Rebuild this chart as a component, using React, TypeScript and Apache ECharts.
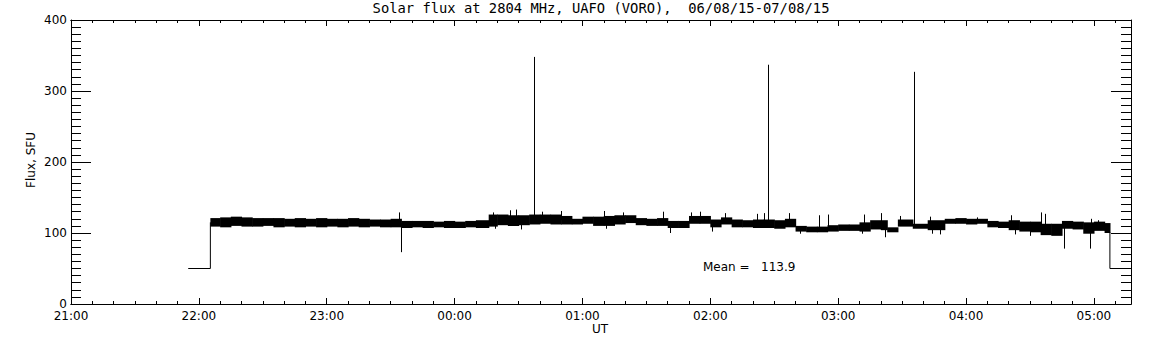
import React, { useEffect, useRef } from "react";
import * as echarts from "echarts";

// ---- text ----
const titleText = "Solar flux at 2804 MHz, UAFO (VORO),\u00A0 06/08/15-07/08/15";
const xAxisName = "UT";
const yAxisName = "Flux, SFU";
const meanLabel = "Mean =\u00A0\u00A0 113.9";

// ---- axes ----
const xTickLabels = ["21:00", "22:00", "23:00", "00:00", "01:00", "02:00", "03:00", "04:00", "05:00"];
const xStart = "21:00";
const xEnd = "05:17:24";
const yTicks = [0, 100, 200, 300, 400];

// ---- calibration steps (flux 50 SFU before/after observations) ----
const stepInTimes = ["21:55", "22:05:24", "22:05:24"];
const stepInValues = [50, 50, 115];
const stepOutTimes = ["05:07:30", "05:07:30", "05:20"];
const stepOutValues = [101, 50, 50];

// ---- noise envelope of the flux record (min / max per interval) ----
const bandStart = [
  "22:05:24", "22:10", "22:15", "22:20", "22:25", "22:30", "22:35", "22:40", "22:45", "22:50", "22:55",
  "23:00", "23:05", "23:10", "23:15", "23:20", "23:25", "23:30", "23:35", "23:40", "23:45", "23:50", "23:55",
  "00:00", "00:05", "00:10", "00:16", "00:20", "00:25", "00:30", "00:35", "00:40", "00:45", "00:50", "00:55",
  "01:00", "01:05", "01:10", "01:15", "01:20", "01:25", "01:30", "01:35", "01:40", "01:45", "01:50", "01:55",
  "02:00", "02:05", "02:10", "02:15", "02:20", "02:25", "02:30", "02:35", "02:40", "02:45", "02:50", "02:55",
  "03:00", "03:05", "03:10", "03:15", "03:20", "03:23", "03:28", "03:35", "03:42", "03:50", "03:55",
  "04:00", "04:05", "04:10", "04:15", "04:20", "04:25", "04:30", "04:35", "04:40", "04:45", "04:50", "04:55",
  "05:00", "05:05",
];
const bandEnd = "05:07:30";
const bandLow = [
  109, 108, 110, 109, 109, 110, 108, 109, 108, 109, 108,
  109, 108, 109, 108, 109, 108, 108, 107, 108, 107, 108, 107,
  107, 108, 107, 109, 111, 110, 111, 112, 113, 112, 112, 112,
  113, 110, 110, 112, 114, 111, 110, 110, 107, 107, 113, 113,
  108, 112, 108, 108, 107, 107, 106, 108, 102, 101, 101, 102,
  103, 103, 102, 105, 104, 101, 109, 106, 104, 113, 113,
  112, 113, 108, 107, 104, 102, 101, 97, 96, 106, 105, 99,
  103, 100,
];
const bandHigh = [
  121, 122, 123, 122, 121, 121, 121, 120, 121, 120, 121,
  120, 120, 121, 120, 119, 119, 120, 117, 117, 117, 116, 117,
  116, 117, 118, 126, 126, 125, 125, 126, 126, 126, 124, 120,
  123, 123, 124, 125, 125, 121, 120, 121, 117, 117, 124, 124,
  119, 122, 119, 118, 119, 119, 118, 120, 110, 109, 109, 111,
  112, 112, 115, 118, 118, 108, 119, 113, 118, 120, 121,
  120, 120, 117, 116, 118, 116, 116, 113, 113, 117, 116, 115,
  116, 114,
];

// ---- short glitches sticking out of the noise band ----
const glitchTimes = [
  "23:33:48", "23:34:54", "00:18", "00:19", "00:26", "00:29", "00:31", "00:41", "00:50",
  "01:10", "01:11", "01:19", "01:38", "01:41", "01:51", "01:55", "02:01", "02:07", "02:22",
  "02:25", "02:37", "02:42", "02:51", "02:55", "03:11", "03:12", "03:20", "03:22", "03:29", "03:43", "03:44",
  "03:48", "04:05", "04:21", "04:23", "04:30", "04:35", "04:37", "04:46", "04:58", "04:58:30", "05:02",
];
const glitchValues = [
  129, 73, 129, 106, 132, 133, 105, 130, 131,
  131, 106, 129, 130, 100, 129, 130, 102, 128, 127,
  128, 128, 99, 125, 126, 99, 126, 128, 94, 124, 123, 99,
  98, 122, 125, 98, 96, 129, 127, 78, 78, 120, 118,
];

// ---- burst spikes ----
const spikeTimes = ["00:37:18", "02:27:12", "03:35:42"];
const spikeValues = [348, 337, 327];

function toMin(s: string): number {
  const p = s.split(":").map(Number);
  let h = p[0];
  if (h < 12) h += 24;
  return h * 60 + p[1] + (p[2] || 0) / 60;
}

const FONT = "DejaVu Sans";

export default function App() {
  const ref = useRef<HTMLDivElement>(null);
  useEffect(() => {
    const chart = echarts.init(ref.current!, null, { renderer: "svg" });

    const bandData = bandStart.map((s, i) => [
      toMin(s),
      i + 1 < bandStart.length ? toMin(bandStart[i + 1]) : toMin(bandEnd),
      bandLow[i],
      bandHigh[i],
    ]);
    const baseAt = (t: number) => {
      for (const b of bandData) if (t >= b[0] && t < b[1]) return (b[2] + b[3]) / 2;
      return 113;
    };
    const glitchData = glitchTimes
      .map((s, i) => [toMin(s), glitchValues[i]])
      .concat(spikeTimes.map((s, i) => [toMin(s), spikeValues[i]]))
      .map(([t, v]) => [t, baseAt(t), v]);

    const xMin = toMin(xStart);
    const xMax = toMin(xEnd);
    const black = { color: "#000", width: 1 };

    const xBase = (pos: "top" | "bottom", interval: number, len: number, labels: boolean) => ({
      type: "value",
      position: pos,
      min: xMin,
      max: xMax,
      interval,
      axisLine: { show: true, onZero: false, lineStyle: black },
      axisTick: { show: true, inside: true, length: len, lineStyle: black },
      splitLine: { show: false },
      axisLabel: labels
        ? {
            show: true,
            margin: 6,
            color: "#000",
            fontFamily: FONT,
            fontSize: 12,
            formatter: (v: number) => {
              const k = (v - xMin) / 60;
              return Math.abs(k - Math.round(k)) < 1e-6 ? xTickLabels[Math.round(k)] || "" : "";
            },
          }
        : { show: false },
    });
    const yBase = (pos: "left" | "right", labels: boolean) => ({
      type: "value",
      position: pos,
      min: yTicks[0],
      max: yTicks[yTicks.length - 1],
      interval: yTicks[1] - yTicks[0],
      axisLine: { show: true, onZero: false, lineStyle: black },
      axisTick: { show: true, inside: true, length: 20, lineStyle: black },
      minorTick: { show: true, splitNumber: 10, length: 10, lineStyle: black },
      splitLine: { show: false },
      minorSplitLine: { show: false },
      axisLabel: labels
        ? { show: true, margin: 4, color: "#000", fontFamily: FONT, fontSize: 12 }
        : { show: false },
    });

    const option: any = {
      animation: false,
      backgroundColor: "#fff",
      grid: { left: 71, right: 21, top: 20, bottom: 41, containLabel: false },
      xAxis: [
        xBase("bottom", 60, 6, true),
        xBase("bottom", 10, 3, false),
        xBase("top", 60, 6, false),
        xBase("top", 10, 3, false),
      ],
      yAxis: [yBase("left", true), yBase("right", false)],
      graphic: [
        {
          type: "text",
          x: 601,
          y: 8,
          style: {
            text: titleText,
            fill: "#000",
            font: "13.8px 'DejaVu Sans Mono'",
            align: "center",
            verticalAlign: "middle",
          },
        },
        {
          type: "text",
          x: 600,
          y: 329,
          style: { text: xAxisName, fill: "#000", font: `12px '${FONT}'`, align: "center", verticalAlign: "middle" },
        },
        {
          type: "text",
          x: 31,
          y: 160,
          rotation: Math.PI / 2,
          style: { text: yAxisName, fill: "#000", font: `12px '${FONT}'`, align: "center", verticalAlign: "middle" },
        },
        {
          type: "text",
          x: 703,
          y: 267,
          style: { text: meanLabel, fill: "#000", font: `12px '${FONT}'`, align: "left", verticalAlign: "middle" },
        },
      ],
      series: [
        {
          type: "custom",
          xAxisIndex: 0,
          yAxisIndex: 0,
          encode: { x: [0, 1], y: [2, 3] },
          data: bandData,
          renderItem: (params: any, api: any) => {
            const a = api.coord([api.value(0), api.value(3)]);
            const b = api.coord([api.value(1), api.value(2)]);
            return {
              type: "rect",
              shape: { x: a[0], y: a[1], width: b[0] - a[0] + 0.6, height: b[1] - a[1] },
              style: { fill: "#000" },
            };
          },
        },
        {
          type: "custom",
          xAxisIndex: 0,
          yAxisIndex: 0,
          encode: { x: 0, y: [1, 2] },
          data: glitchData,
          renderItem: (params: any, api: any) => {
            const a = api.coord([api.value(0), api.value(1)]);
            const b = api.coord([api.value(0), api.value(2)]);
            const x = Math.round(a[0]) + 0.5;
            return {
              type: "line",
              shape: { x1: x, y1: a[1], x2: x, y2: b[1] },
              style: { stroke: "#000", lineWidth: 1 },
            };
          },
        },
        {
          type: "line",
          xAxisIndex: 0,
          yAxisIndex: 0,
          symbol: "none",
          lineStyle: black,
          data: stepInTimes.map((s, i) => [toMin(s), stepInValues[i]]),
        },
        {
          type: "line",
          xAxisIndex: 0,
          yAxisIndex: 0,
          symbol: "none",
          clip: true,
          lineStyle: black,
          data: stepOutTimes.map((s, i) => [toMin(s), stepOutValues[i]]),
        },
      ],
    };
    chart.setOption(option);
    return () => chart.dispose();
  }, []);
  return (
    <div
      ref={ref}
      style={{ position: "fixed", left: 0, top: 0, width: 1152, height: 345, background: "#fff" }}
    />
  );
}
